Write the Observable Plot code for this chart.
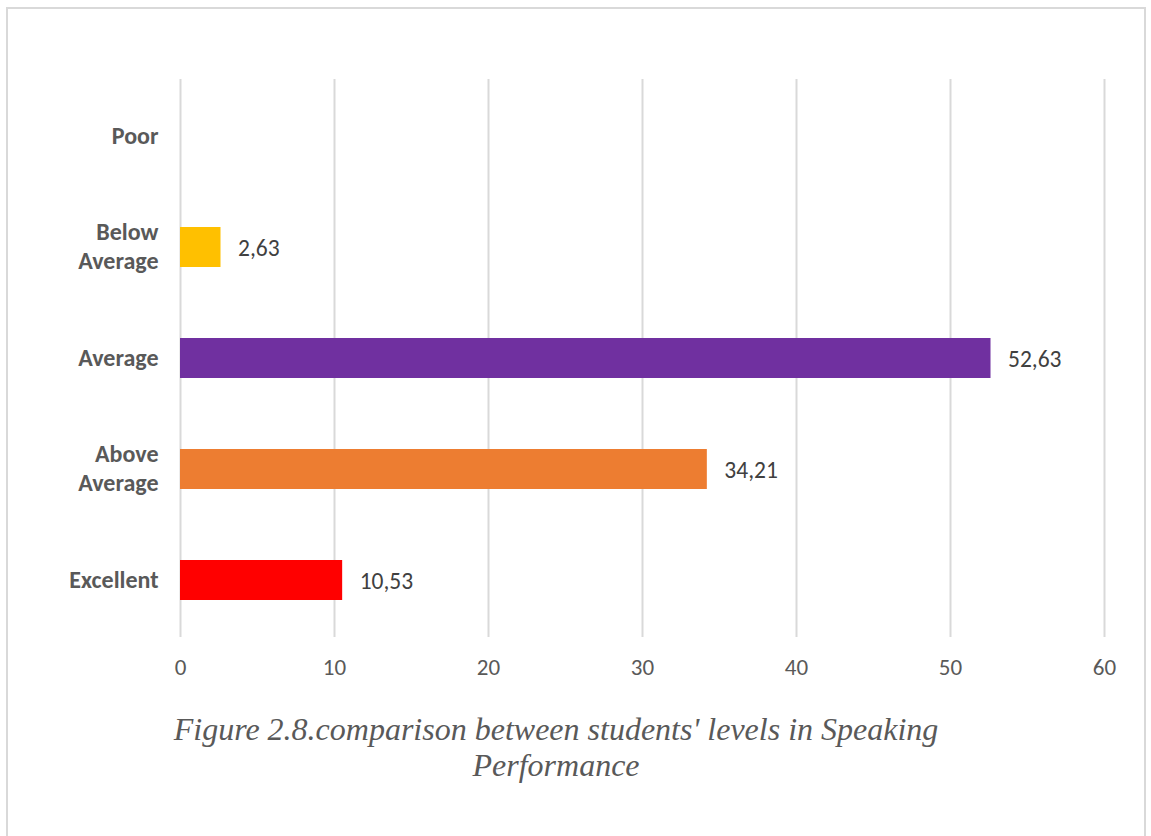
<!DOCTYPE html>
<html>
<head>
<meta charset="utf-8">
<script src="https://cdn.jsdelivr.net/npm/d3@7"></script>
<script src="https://cdn.jsdelivr.net/npm/@observablehq/plot@0.6"></script>
<style>
  html, body { margin: 0; padding: 0; background: #fff; width: 1151px; height: 836px; overflow: hidden; }
  #frame { position: absolute; left: 6px; top: 7px; width: 1140px; height: 840px; border: 2px solid #d9d9d9; box-sizing: border-box; }
  #chart { position: absolute; left: 0; top: 0; }
  #caption { position: absolute; left: 156px; width: 800px; top: 711px; text-align: center;
    font-family: "Liberation Serif", "Times New Roman", serif; font-style: italic; font-size: 32px; line-height: 36px; color: #595959; }
</style>
</head>
<body>
<div id="frame"></div>
<div id="chart"></div>
<div id="caption">Figure 2.8.comparison between students' levels in Speaking<br>Performance</div>
<script>
const categories = ["Poor", "Below Average", "Average", "Above Average", "Excellent"];
const values = [0, 2.63, 52.63, 34.21, 10.53];
const colors = ["#ffffff", "#FFC000", "#7030A0", "#ED7D31", "#FF0000"];
const xTicks = [0, 10, 20, 30, 40, 50, 60];

const data = categories.map((c, i) => ({category: c, value: values[i], color: colors[i]}));
const fmt = v => v.toFixed(2).replace(".", ",");
const font = "Carlito, Calibri, Lato, sans-serif";

const chart = Plot.plot({
  width: 1151,
  height: 700,
  marginTop: 79,
  marginBottom: 63,
  marginLeft: 180,
  marginRight: 47,
  style: {fontFamily: font, color: "#595959", background: "transparent"},
  x: {domain: [0, 60], ticks: xTicks},
  y: {domain: categories, padding: 0.64, paddingOuter: 0.32},
  marks: [
    Plot.gridX(xTicks, {stroke: "#d9d9d9", strokeOpacity: 1, strokeWidth: 2}),
    Plot.barX(data, {x: "value", y: "category", fill: "color"}),
    Plot.text(data.filter(d => d.value > 0), {x: "value", y: "category", text: d => fmt(d.value), dx: 17, dy: 1, textAnchor: "start", fontSize: 23.5, fill: "#404040"}),
    Plot.axisX({ticks: xTicks, tickSize: 0, tickPadding: 21, fontSize: 23, label: null}),
    Plot.axisY({tickSize: 0, tickPadding: 22, fontSize: 24, fontWeight: "bold", lineHeight: 1.2, dy: -2, label: null,
      tickFormat: d => d.replace(" ", "\n")})
  ]
});
document.getElementById("chart").appendChild(chart);
</script>
</body>
</html>
